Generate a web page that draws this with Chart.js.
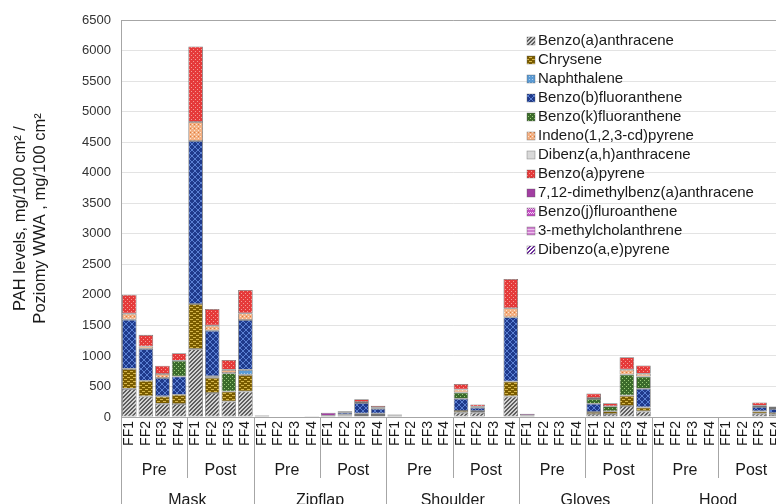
<!DOCTYPE html>
<html><head><meta charset="utf-8">
<script src="https://cdn.jsdelivr.net/npm/chart.js@4/dist/chart.umd.min.js"></script>
<style>html,body{margin:0;padding:0;overflow:hidden;background:#fff}#wrap{width:797px;height:520px}</style>
</head><body><div id="wrap"><canvas id="c" width="797" height="520"></canvas></div>
<script>
// ---- categories / tick labels ----
const groups = ['Mask', 'Zipflap', 'Shoulder', 'Gloves', 'Hood'];
const phases = ['Pre', 'Post'];
const firefighters = ['FF1', 'FF2', 'FF3', 'FF4'];
const yTicks = [0, 500, 1000, 1500, 2000, 2500, 3000, 3500, 4000, 4500, 5000, 5500, 6000, 6500];

// ---- series (40 bars: group x phase x FF) ----
const benzoAAnthracene = [461,337,218,212, 1111,392,255,418,  20,0,0,12, 20,25,33,33,  25,0,0,0, 70,70,0,337,  15,0,0,0, 49,49,180,92,  0,0,0,0, 0,0,54,38];
const chrysene        = [327,256,120,152, 740,250,163,272,   10,0,0,5, 0,10,22,22,  15,0,0,0, 30,27,0,245,  10,0,0,0, 33,44,170,65,  0,0,0,0, 0,0,38,27];
const naphthalene     = [0,0,0,0, 0,25,0,82,  0,0,0,0, 0,0,0,0,  0,0,0,0, 0,0,0,0,  0,0,0,0, 0,0,0,0,  0,0,0,0, 0,0,0,0];
const benzoBFluoranthene = [806,523,300,300, 2668,747,0,817,  0,0,0,0, 0,35,175,82,  0,0,0,0, 200,54,0,1051,  0,0,0,0, 136,0,0,305,  0,0,0,0, 0,0,71,65];
const benzoKFluoranthene = [0,0,0,256, 0,0,300,0,  0,0,0,0, 0,0,0,0,  0,0,0,0, 100,0,0,0,  0,0,0,0, 76,82,345,201,  0,0,0,0, 0,0,0,0];
const indenoPyrene    = [98,38,65,0, 310,82,54,109,  0,0,0,0, 0,0,16,16,  0,0,0,0, 50,16,0,147,  0,0,0,0, 16,0,80,44,  0,0,0,0, 0,0,22,16];
const dibenzAHAnthracene = [0,0,0,0, 0,0,0,0,  0,0,0,0, 0,0,0,0,  0,0,0,0, 0,0,0,0,  0,0,0,0, 0,0,0,0,  0,0,0,0, 0,0,0,0];
const benzoAPyrene    = [311,191,136,125, 1237,273,163,381,  0,0,0,0, 0,25,44,33,  0,0,0,0, 90,38,0,479,  0,0,0,0, 76,49,205,136,  0,0,0,0, 0,0,54,27];
const dimethylbenzAnthracene = [0,0,0,0, 0,0,0,0,  0,0,0,0, 50,0,0,0,  0,0,0,0, 0,0,0,0,  0,0,0,0, 0,0,0,0,  0,0,0,0, 0,0,0,0];
const benzoJFluoranthene = [0,0,0,0, 0,0,0,0,  0,0,0,0, 0,0,0,0,  0,0,0,0, 0,0,0,0,  30,0,0,0, 0,0,0,0,  0,0,0,0, 0,0,0,0];
const methylcholanthrene = [0,0,0,0, 0,0,0,0,  0,0,0,0, 0,0,0,0,  0,0,0,0, 0,0,0,0,  0,0,0,0, 0,0,0,0,  0,0,0,0, 0,0,0,0];
const dibenzoAEPyrene = [0,0,0,0, 0,0,0,0,  0,0,0,0, 0,0,0,0,  0,0,0,0, 0,0,0,0,  0,0,0,0, 0,0,0,0,  0,0,0,0, 0,0,0,0];

const seriesNames = ['Benzo(a)anthracene','Chrysene','Naphthalene','Benzo(b)fluoranthene','Benzo(k)fluoranthene','Indeno(1,2,3-cd)pyrene','Dibenz(a,h)anthracene','Benzo(a)pyrene','7,12-dimethylbenz(a)anthracene','Benzo(j)fluroanthene','3-methylcholanthrene','Dibenzo(a,e)pyrene'];
const seriesValues = [benzoAAnthracene, chrysene, naphthalene, benzoBFluoranthene, benzoKFluoranthene, indenoPyrene, dibenzAHAnthracene, benzoAPyrene, dimethylbenzAnthracene, benzoJFluoranthene, methylcholanthrene, dibenzoAEPyrene];

const categories = [];
groups.forEach(g => phases.forEach(p => firefighters.forEach(f => categories.push(f))));

// ---- fill patterns ----
const mainCtx = document.getElementById('c').getContext('2d');
function pat(w, h, bg, draw) {
  const c = document.createElement('canvas'); c.width = w; c.height = h;
  const x = c.getContext('2d'); x.fillStyle = bg; x.fillRect(0, 0, w, h);
  if (draw) draw(x);
  return mainCtx.createPattern(c, 'repeat');
}
function px(x, col, pts) { x.fillStyle = col; pts.forEach(p => x.fillRect(p[0], p[1], 1, 1)); }
const fills = [
  pat(4,4,'#d2d2d2', x => px(x,'#5e5e5e',[[3,0],[0,0],[2,1],[3,1],[1,2],[2,2],[0,3],[1,3]])),
  pat(6,4,'#7a5c00', x => { x.fillStyle='#d6b64a'; x.fillRect(1,1,3,1); x.fillRect(4,3,2,1); x.fillRect(0,3,1,1); }),
  pat(3,3,'#5b9bd5', x => px(x,'#a9cbea',[[1,1]])),
  pat(6,6,'#1f3a8c', x => { const p=[]; for(let i=0;i<6;i++){p.push([i,i]);p.push([5-i,i]);} px(x,'#5a7fd2',p); }),
  pat(4,4,'#3b6b2b', x => px(x,'#9ccc7a',[[0,0],[2,2]])),
  pat(4,4,'#f3b083', x => { px(x,'#fde4cf',[[0,0],[2,2]]); px(x,'#e07a38',[[2,0]]); }),
  '#d9d9d9',
  pat(4,4,'#e53a3a', x => px(x,'#f49a94',[[1,1],[3,3]])),
  '#a23ea2',
  pat(4,4,'#c24fc2', x => px(x,'#f4d4f4',[[0,0],[1,1],[2,0],[3,1]])),
  pat(3,3,'#cf80cf', x => px(x,'#eec0ee',[[0,1],[1,1],[2,1]])),
  pat(4,4,'#ffffff', x => px(x,'#7030a0',[[3,0],[0,0],[2,1],[3,1],[1,2],[2,2],[0,3],[1,3]]))
];

const datasets = seriesNames.map((name, i) => ({
  label: name,
  data: seriesValues[i].map(v => v === 0 ? null : v),
  backgroundColor: fills[i],
  borderColor: 'rgba(70,70,70,0.75)',
  borderWidth: 0.8,
  borderSkipped: false,
  categoryPercentage: 1.0,
  barPercentage: 0.88
}));

// ---- custom multi-level category labels + inner legend ----
const multiLevel = {
  id: 'multiLevel',
  afterDraw(chart) {
    const { ctx, chartArea: a, scales: { x } } = chart;
    const half = (x.getPixelForTick(1) - x.getPixelForTick(0)) / 2;
    const edge = i => (i < categories.length ? x.getPixelForTick(i) - half : x.getPixelForTick(categories.length - 1) + half);
    ctx.save();
    ctx.strokeStyle = '#a6a6a6'; ctx.lineWidth = 1;
    const perGroup = phases.length * firefighters.length;
    for (let g = 0; g <= groups.length; g++) {
      const xx = Math.round(edge(g * perGroup)) + 0.5;
      ctx.beginPath(); ctx.moveTo(xx, a.bottom); ctx.lineTo(xx, chart.height); ctx.stroke();
    }
    for (let g = 0; g < groups.length; g++) {
      const xx = Math.round(edge(g * perGroup + firefighters.length)) + 0.5;
      ctx.beginPath(); ctx.moveTo(xx, a.bottom); ctx.lineTo(xx, a.bottom + 61); ctx.stroke();
    }
    ctx.fillStyle = '#1a1a1a'; ctx.textAlign = 'center'; ctx.textBaseline = 'alphabetic';
    ctx.font = '16px "Liberation Sans", Arial, sans-serif';
    for (let g = 0; g < groups.length; g++) {
      for (let p = 0; p < phases.length; p++) {
        const s = g * perGroup + p * firefighters.length;
        const cx = (edge(s) + edge(s + firefighters.length)) / 2;
        ctx.fillText(phases[p], cx, a.bottom + 58);
      }
      const cx = (edge(g * perGroup) + edge((g + 1) * perGroup)) / 2;
      ctx.fillText(groups[g], cx, a.bottom + 88);
    }
    // legend inside plot
    ctx.textAlign = 'left'; ctx.textBaseline = 'middle';
    ctx.font = '15px "Liberation Sans", Arial, sans-serif';
    seriesNames.forEach((n, i) => {
      const y = 41 + i * 19;
      ctx.fillStyle = fills[i]; ctx.fillRect(527, y - 4, 8, 8);
      ctx.strokeStyle = 'rgba(90,90,90,0.6)'; ctx.lineWidth = 0.6; ctx.strokeRect(527, y - 4, 8, 8);
      ctx.fillStyle = '#1a1a1a'; ctx.fillText(n, 538, y);
    });
    ctx.restore();
  }
};

new Chart(document.getElementById('c'), {
  type: 'bar',
  data: { labels: categories, datasets },
  plugins: [multiLevel],
  options: {
    responsive: false, animation: false,
    layout: { padding: { top: 20, right: 5, left: 0, bottom: 0 } },
    plugins: { legend: { display: false }, tooltip: { enabled: false } },
    scales: {
      x: {
        stacked: true, offset: true,
        grid: { display: false, drawTicks: false },
        border: { display: true, color: '#a6a6a6', width: 1 },
        ticks: { autoSkip: false, minRotation: 90, maxRotation: 90, padding: 4, color: '#1a1a1a',
                 font: { family: '"Liberation Sans", Arial, sans-serif', size: 14 } },
        afterFit: s => { s.height = 103; }
      },
      y: {
        stacked: true, min: 0, max: 6500,
        afterBuildTicks: s => { s.ticks = yTicks.map(v => ({ value: v })); },
        grid: { drawTicks: false, color: c => (c.tick && c.tick.value === 6500 ? '#a6a6a6' : '#e3e3e3'), lineWidth: 1 },
        border: { display: true, color: '#a6a6a6', width: 1 },
        ticks: { padding: 10, color: '#333', callback: v => String(v),
                 font: { family: '"Liberation Sans", Arial, sans-serif', size: 13 } },
        title: { display: true, text: ['PAH levels, mg/100 cm² /', 'Poziomy WWA , mg/100 cm²'], color: '#1a1a1a',
                 padding: { top: 11, bottom: 0 },
                 font: { family: '"Liberation Sans", Arial, sans-serif', size: 16.5, lineHeight: 1.2 } },
        afterFit: s => { s.width = 121; }
      }
    }
  }
});
</script></body></html>
